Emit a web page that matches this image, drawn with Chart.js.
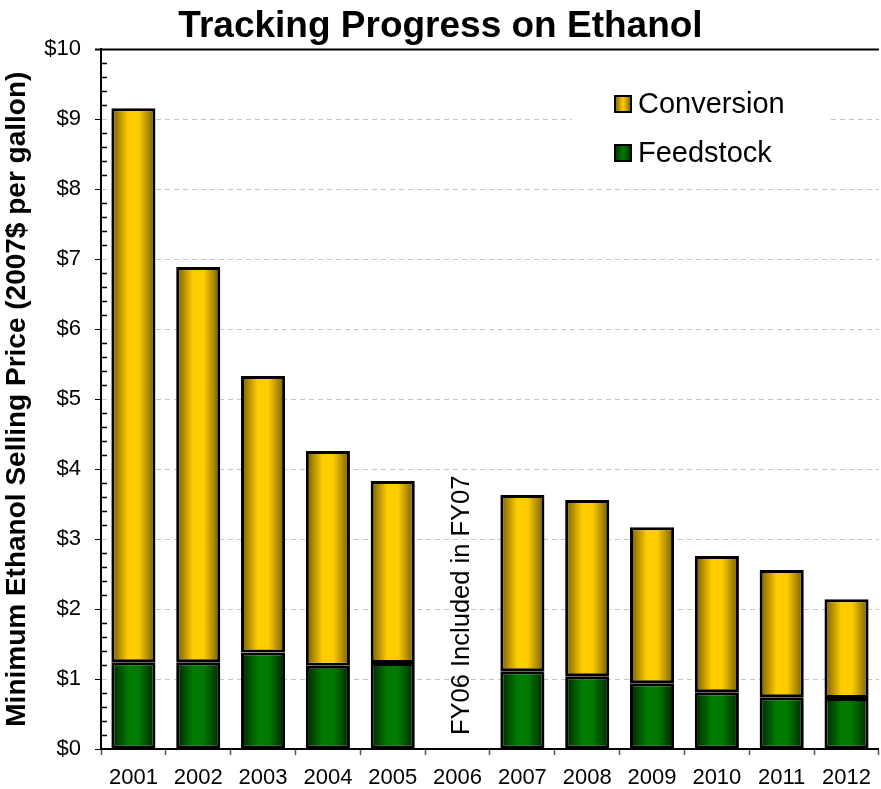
<!DOCTYPE html>
<html>
<head>
<meta charset="utf-8">
<script src="https://cdn.jsdelivr.net/npm/chart.js@4"></script>
<style>
  body { margin: 0; background: #fff; }
  #wrap { width: 881px; height: 789px; }
</style>
</head>
<body>
<div id="wrap"><canvas id="myChart"></canvas></div>
<script>
// data (2006 has no bar)
const years = ['2001','2002','2003','2004','2005','2006','2007','2008','2009','2010','2011','2012'];
const feedstock = [1.24, 1.24, 1.38, 1.19, 1.23, null, 1.11, 1.04, 0.94, 0.81, 0.74, 0.73];
const conversion = [7.92, 5.65, 3.95, 3.07, 2.60, null, 2.52, 2.52, 2.23, 1.95, 1.82, 1.41];
const yTicks = [0,1,2,3,4,5,6,7,8,9,10];
const note = 'FY06 Included in FY07';

const BAR_PCT = 0.68;

// horizontal shading like the original cylinders
function barFill(dark, light){
  return function(c){
    const chart = c.chart;
    const xs = chart.scales.x;
    if (!xs || !chart.chartArea || c.dataIndex === undefined) return light;
    const cx = xs.getPixelForValue(c.dataIndex);
    const w = xs.width / years.length * BAR_PCT;
    const g = chart.ctx.createLinearGradient(cx - w/2, 0, cx + w/2, 0);
    g.addColorStop(0, dark);
    g.addColorStop(0.38, light);
    g.addColorStop(0.62, light);
    g.addColorStop(1, dark);
    return g;
  };
}

const extras = {
  id: 'extras',
  beforeDatasetsDraw(chart){
    const ctx = chart.ctx, a = chart.chartArea, ys = chart.scales.y, xs = chart.scales.x;
    ctx.save();
    // legend backdrop hides gridlines
    ctx.fillStyle = '#fff';
    ctx.fillRect(572, 78, 255, 100);
    // minor ticks inside the y axis
    ctx.strokeStyle = '#000';
    ctx.lineWidth = 1.5;
    for (let i = 1; i < 50; i++){
      if (i % 5 === 0) continue;
      const y = Math.round(ys.getPixelForValue(i/5)) + 0.5;
      ctx.beginPath(); ctx.moveTo(a.left, y); ctx.lineTo(a.left + 6, y); ctx.stroke();
    }
    // top border
    ctx.lineWidth = 2;
    ctx.beginPath(); ctx.moveTo(a.left - 6, a.top); ctx.lineTo(a.right, a.top); ctx.stroke();
    // legend
    const items = [['Conversion', '#806600', '#ffcc00', 104], ['Feedstock', '#003300', '#007a00', 153]];
    ctx.font = '29px Arial, "Liberation Sans"';
    ctx.textBaseline = 'middle';
    items.forEach(function(it){
      const g = ctx.createLinearGradient(615, 0, 631, 0);
      g.addColorStop(0, it[1]); g.addColorStop(0.5, it[2]); g.addColorStop(1, it[1]);
      ctx.fillStyle = g;
      ctx.fillRect(615, it[3] - 8, 16, 16);
      ctx.lineWidth = 2;
      ctx.strokeStyle = '#000';
      ctx.strokeRect(615, it[3] - 8, 16, 16);
      ctx.fillStyle = '#000';
      ctx.fillText(it[0], 638, it[3] + 1);
    });
    // note for the empty 2006 slot
    const nx = xs.getPixelForValue(5) + 4;
    ctx.translate(nx, a.bottom - 14);
    ctx.rotate(-Math.PI/2);
    ctx.font = '25.5px Arial, "Liberation Sans"';
    ctx.textAlign = 'left';
    ctx.fillText(note, 0, 0);
    ctx.restore();
  }
};

new Chart(document.getElementById('myChart'), {
  type: 'bar',
  data: {
    labels: years,
    datasets: [
      {
        label: 'Feedstock',
        data: feedstock,
        backgroundColor: barFill('#002400', '#007a00'),
        borderColor: '#000',
        borderWidth: 3,
        borderSkipped: false,
        categoryPercentage: 1,
        barPercentage: BAR_PCT
      },
      {
        label: 'Conversion',
        data: conversion,
        backgroundColor: barFill('#725a00', '#ffcc00'),
        borderColor: '#000',
        borderWidth: 3,
        borderSkipped: false,
        categoryPercentage: 1,
        barPercentage: BAR_PCT
      }
    ]
  },
  options: {
    responsive: true,
    maintainAspectRatio: false,
    animation: false,
    layout: { padding: { left: 0, right: 0, top: 0, bottom: 0 } },
    plugins: {
      legend: { display: false },
      tooltip: { enabled: false },
      title: {
        display: true,
        text: 'Tracking Progress on Ethanol',
        color: '#000',
        font: { family: 'Arial, "Liberation Sans"', size: 37, weight: 'bold', lineHeight: 1.2 },
        padding: { top: 5, bottom: 0 }
      }
    },
    scales: {
      x: {
        stacked: true,
        offset: true,
        afterFit(s){ s.height = 40; },
        grid: { display: true, offset: true, drawOnChartArea: false, tickLength: 6, tickColor: '#555', tickWidth: 1.5 },
        border: { color: '#000', width: 2 },
        ticks: { color: '#000', padding: 10, font: { family: 'Arial, "Liberation Sans"', size: 22 } }
      },
      y: {
        stacked: true,
        min: 0,
        max: 10,
        afterFit(s){ s.width = 101; },
        afterBuildTicks(s){ s.ticks = yTicks.map(v => ({ value: v })); },
        grid: {
          color: c => (c.tick && (c.tick.value === 0 || c.tick.value === 10)) ? 'rgba(0,0,0,0)' : '#c4c4c4',
          tickBorderDash: [],
          tickColor: '#000',
          tickLength: 6,
          lineWidth: 1
        },
        border: { color: '#000', width: 2, dash: [5, 4] },
        ticks: {
          color: '#000',
          padding: 14,
          font: { family: 'Arial, "Liberation Sans"', size: 22 },
          callback: v => '$' + v
        },
        title: {
          display: true,
          text: 'Minimum Ethanol Selling Price (2007$ per gallon)',
          color: '#000',
          font: { family: 'Arial, "Liberation Sans"', size: 28, weight: 'bold' },
          padding: { top: 0, bottom: 4 }
        }
      }
    }
  },
  plugins: [extras]
});
</script>
</body>
</html>
